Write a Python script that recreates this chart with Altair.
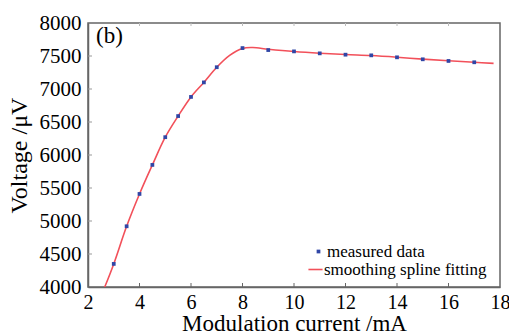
import altair as alt
import pandas as pd

meas_x = [3, 3.5, 4, 4.5, 5, 5.5, 6, 6.5, 7, 8, 9, 10, 11, 12, 13, 14, 15, 16, 17]
meas_y = [4350, 4920, 5410, 5850, 6270, 6590, 6880, 7100, 7330, 7620, 7590, 7570,
          7540, 7520, 7510, 7480, 7450, 7425, 7405]

# smoothing spline curve
fit_x = [2.65, 3, 3.5, 4, 4.5, 5, 5.5, 6, 6.5, 7, 7.5, 8, 8.4, 9, 10, 11, 12, 13,
         14, 15, 16, 17, 17.75]
fit_y = [4000, 4350, 4920, 5410, 5850, 6270, 6590, 6880, 7100, 7330, 7510, 7615,
         7628, 7603, 7568, 7542, 7522, 7507, 7482, 7452, 7427, 7405, 7388]

x_ticks = [2, 4, 6, 8, 10, 12, 14, 16, 18]
y_ticks = [4000, 4500, 5000, 5500, 6000, 6500, 7000, 7500, 8000]

W, H = 412, 264
FONT = "Liberation Serif"
BLUE = "#3046a6"
RED = "#f2505a"
GRAY = "#666666"

meas = pd.DataFrame({"x": meas_x, "y": meas_y, "s": "measured data"})
fit = pd.DataFrame({"x": fit_x, "y": fit_y, "f": "smoothing spline fitting"})
xt = pd.DataFrame({"t": x_ticks[1:-1]})
yt = pd.DataFrame({"t": y_ticks[1:-1]})

xs = alt.Scale(domain=[2, 18], nice=False, zero=False)
ys = alt.Scale(domain=[4000, 8000], nice=False, zero=False)

xaxis = alt.Axis(values=x_ticks, ticks=False, tickSize=0, grid=False, labelPadding=5,
                 title="Modulation current /mA", titlePadding=0, format="d",
                 labelOverlap=False, labelFlush=False, domainColor=GRAY, domainWidth=1.5,
                 labelFont=FONT, labelFontSize=20, labelColor="black",
                 titleFont=FONT, titleFontSize=23, titleColor="black", titleFontWeight="normal")
yaxis = alt.Axis(values=y_ticks, ticks=False, tickSize=0, grid=False, labelPadding=7,
                 title="Voltage /μV", titlePadding=8, format="d",
                 labelOverlap=False, labelFlush=False, domainColor=GRAY, domainWidth=1.5,
                 labelFont=FONT, labelFontSize=21, labelColor="black",
                 titleFont=FONT, titleFontSize=24, titleColor="black", titleFontWeight="normal")

X = lambda f: alt.X(f, scale=xs, axis=xaxis)
Y = lambda f: alt.Y(f, scale=ys, axis=yaxis)

leg_common = dict(title=None, orient="none", labelFont=FONT, labelFontSize=17,
                  labelColor="black", padding=0, rowPadding=0, labelLimit=400, labelOffset=0)

line = alt.Chart(fit).mark_line(interpolate="catmull-rom", strokeWidth=1.6, clip=True).encode(
    x=X("x:Q"), y=Y("y:Q"),
    stroke=alt.Stroke("f:N", scale=alt.Scale(domain=["smoothing spline fitting"], range=[RED]),
                      legend=alt.Legend(legendX=219, legendY=238, symbolType="stroke",
                                        symbolSize=200, symbolStrokeWidth=1.6, **leg_common)),
)

pts = alt.Chart(meas).mark_square(size=14, opacity=1).encode(
    x=X("x:Q"), y=Y("y:Q"),
    color=alt.Color("s:N", scale=alt.Scale(domain=["measured data"], range=[BLUE]),
                    legend=alt.Legend(legendX=222, legendY=220, symbolType="square",
                                      symbolSize=14, **leg_common)),
)

bt = alt.Chart(xt).mark_rule(color=GRAY, strokeWidth=1).encode(
    x=X("t:Q"), y=alt.value(H), y2=alt.value(H - 4))
tt = alt.Chart(xt).mark_rule(color="#bbbbbb", strokeWidth=1).encode(
    x=X("t:Q"), y=alt.value(0), y2=alt.value(3))
lt = alt.Chart(yt).mark_rule(color="#999999", strokeWidth=1).encode(
    y=Y("t:Q"), x=alt.value(0), x2=alt.value(4))

label = alt.Chart(pd.DataFrame({"l": ["(b)"]})).mark_text(
    font=FONT, fontSize=23, align="left", baseline="middle", color="black").encode(
    text="l:N", x=alt.value(8), y=alt.value(13))

chart = alt.layer(bt, tt, lt, line, pts, label).resolve_scale(color="independent").properties(
    width=W, height=H,
    background="white",
    autosize=alt.AutoSizeParams(type="none"),
    padding={"left": 88, "top": 23, "right": 9, "bottom": 49},
).configure_view(stroke=GRAY, strokeWidth=1.5)

chart.save("out.html", embed_options={"renderer": "svg", "actions": False})
